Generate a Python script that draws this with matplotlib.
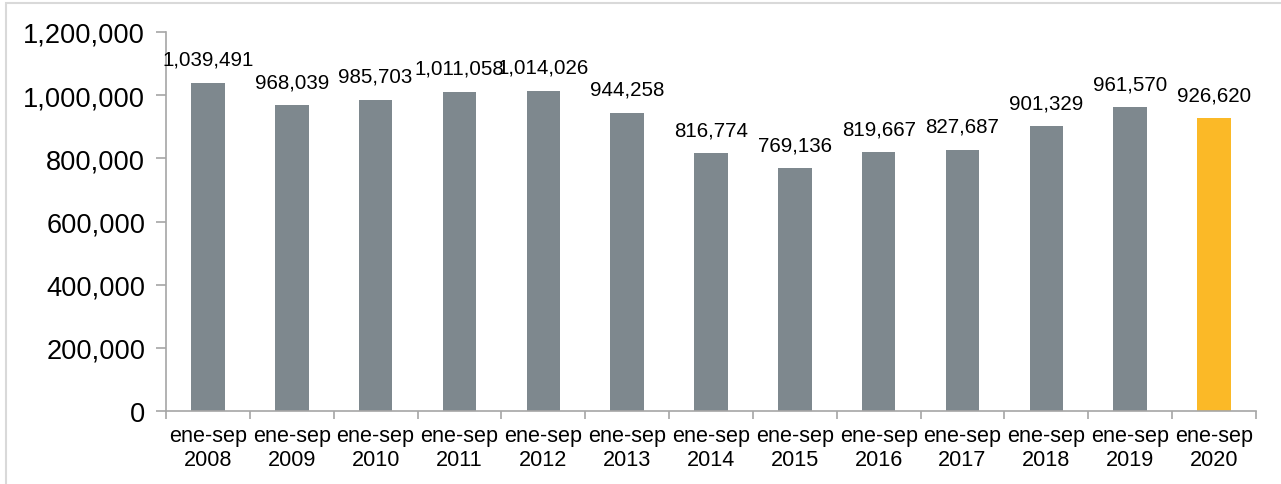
import matplotlib
matplotlib.use("Agg")
import matplotlib.pyplot as plt
from matplotlib.ticker import FuncFormatter
from matplotlib.patches import Rectangle

plt.rcParams['font.family'] = ['Liberation Sans', 'DejaVu Sans']

years = ["2008", "2009", "2010", "2011", "2012", "2013", "2014",
         "2015", "2016", "2017", "2018", "2019", "2020"]
categories = ["ene-sep\n" + y for y in years]
values = [1039491, 968039, 985703, 1011058, 1014026, 944258, 816774,
          769136, 819667, 827687, 901329, 961570, 926620]
colors = ["#7E888E"] * 12 + ["#FBB927"]

fig = plt.figure(figsize=(12.81, 4.85), dpi=100)
ax = fig.add_axes([166/1281, 1 - 412/485, (1256-166)/1281, (412-33)/485])

x = list(range(len(values)))
bars = ax.bar(x, values, width=0.4, color=colors, zorder=2)
ax.set_xlim(-0.5, len(values) - 0.5)
ax.set_ylim(0, 1200000)
ax.set_yticks(range(0, 1200001, 200000))
ax.yaxis.set_major_formatter(FuncFormatter(lambda v, p: f"{int(v):,}"))
ax.set_xticks(x)
ax.set_xticklabels(categories, fontsize=15.6, linespacing=1.22)
ax.set_xticks([i - 0.5 for i in range(len(values) + 1)], minor=True)
ax.tick_params(axis='x', which='major', length=0, pad=10)
ax.tick_params(axis='x', which='minor', length=6, color='#A6A6A6', width=1.2)
ax.tick_params(axis='y', labelsize=19.6, length=7, color='#A6A6A6', width=1.2, pad=8)

for s in ['top', 'right']:
    ax.spines[s].set_visible(False)
for s in ['left', 'bottom']:
    ax.spines[s].set_color('#A6A6A6')
    ax.spines[s].set_linewidth(1.2)

for xi, v in zip(x, values):
    ax.annotate(f"{v:,}", (xi, v), xytext=(0, 10), textcoords='offset points',
                ha='center', va='bottom', fontsize=14.8)

fig.patches.append(Rectangle((6/1281, -0.01), 1.1, 1 - 4/485 + 0.01, transform=fig.transFigure,
                             fill=False, edgecolor='#D9D9D9', linewidth=1.5))

fig.savefig("out.png", dpi=100)
